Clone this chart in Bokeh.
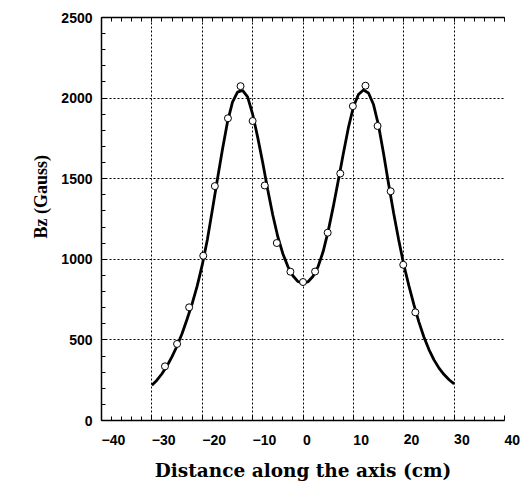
from bokeh.plotting import figure
from bokeh.models import Range1d, LinearAxis, SingleIntervalTicker, Title, CustomJSTickFormatter
from bokeh.embed import file_html
from bokeh.resources import INLINE

# Fitted curve Bz(z), every 1 cm
curve_x = [-30, -29, -28, -27, -26, -25, -24, -23, -22, -21, -20, -19, -18, -17, -16,
           -15, -14, -13, -12, -11, -10, -9, -8, -7, -6, -5, -4, -3, -2, -1,
           0, 1, 2, 3, 4, 5, 6, 7, 8, 9, 10, 11, 12, 13, 14, 15,
           16, 17, 18, 19, 20, 21, 22, 23, 24, 25, 26, 27, 28, 29, 30]
curve_bz = [219, 250, 290, 338, 396, 462, 540, 630, 725, 835, 965, 1120, 1305, 1495, 1680,
            1850, 1975, 2037, 2048, 2008, 1900, 1758, 1600, 1432, 1275, 1140, 1035, 955, 898, 862,
            850, 861, 895, 955, 1048, 1175, 1325, 1488, 1655, 1815, 1945, 2022, 2050, 2032, 1960, 1830,
            1655, 1465, 1285, 1120, 968, 838, 720, 612, 518, 440, 376, 325, 285, 253, 227]

# Measured points
meas_x = [-27.4, -25.0, -22.6, -19.8, -17.5, -14.9, -12.4, -10.0, -7.6, -5.2, -2.5,
          0.0, 2.4, 4.9, 7.4, 9.9, 12.4, 14.8, 17.4, 19.9, 22.3]
meas_bz = [336, 475, 702, 1022, 1454, 1875, 2074, 1858, 1458, 1101, 923,
           859, 924, 1165, 1532, 1950, 2077, 1827, 1422, 966, 671]

x_ticks = [-40, -30, -20, -10, 0, 10, 20, 30, 40]
x_tick_labels = ["\u221240", "\u221230", "\u221220", "\u221210", "0", "10", "20", "30", "40"]
y_ticks = [0, 500, 1000, 1500, 2000, 2500]
y_tick_labels = ["0", "500", "1000", "1500", "2000", "2500"]

x_title = "Distance along the axis (cm)"
y_title = "Bz (Gauss)"

p = figure(width=524, height=500, output_backend="svg", toolbar_location=None,
           x_range=Range1d(-40, 40), y_range=Range1d(0, 2500),
           min_border_left=101, min_border_right=20, min_border_top=17, min_border_bottom=80)
p.outline_line_color = None
p.background_fill_color = "white"
p.border_fill_color = "white"

xt = SingleIntervalTicker(interval=10, num_minor_ticks=5)
yt = SingleIntervalTicker(interval=500, num_minor_ticks=5)

tick_font = "Liberation Sans"

xa = p.xaxis[0]
xa.ticker = xt
xa.major_label_overrides = {t: l for t, l in zip(x_ticks, x_tick_labels)}
ya = p.yaxis[0]
ya.ticker = yt
ya.major_label_overrides = {t: l for t, l in zip(y_ticks, y_tick_labels)}

for ax in (xa, ya):
    ax.axis_line_color = "black"
    ax.axis_line_width = 1.5
    ax.major_tick_in = 5
    ax.major_tick_out = 0
    ax.minor_tick_in = 4
    ax.minor_tick_out = 0
    ax.major_tick_line_color = "black"
    ax.minor_tick_line_color = "black"
    ax.major_label_text_font = tick_font
    ax.major_label_text_font_style = "bold"
    ax.major_label_text_font_size = "14px"
    ax.major_label_text_color = "black"

xa.major_label_standoff = 19
xa.major_label_orientation = -0.0001
ya.major_label_standoff = 9

xa.axis_label = x_title
xa.axis_label_text_font = "DejaVu Serif"
xa.axis_label_text_font_style = "bold"
xa.axis_label_text_font_size = "18.5px"
xa.axis_label_text_color = "black"
xa.axis_label_standoff = 7

ytitle = Title(text=y_title, align="left", offset=182, standoff=15,
               text_font="Liberation Serif", text_font_style="bold",
               text_font_size="18px", text_color="black")
p.add_layout(ytitle, "left")

top = LinearAxis(ticker=SingleIntervalTicker(interval=10, num_minor_ticks=5),
                 formatter=CustomJSTickFormatter(code="return ''"))
top.axis_line_color = "black"
top.axis_line_width = 1.5
top.major_tick_in = 4
top.major_tick_out = 0
top.minor_tick_in = 4
top.minor_tick_out = 0
top.major_label_standoff = 0
p.add_layout(top, "above")

for g in (p.xgrid[0], p.ygrid[0]):
    g.grid_line_color = "black"
    g.grid_line_dash = "2 2"
    g.grid_line_width = 1
p.xgrid[0].ticker = xt
p.ygrid[0].ticker = yt

p.line(curve_x, curve_bz, line_color="black", line_width=2.8)
p.scatter(meas_x, meas_bz, size=7, marker="circle", line_color="black",
          fill_color="white", line_width=1)

open("out.html", "w").write(file_html(p, INLINE))
